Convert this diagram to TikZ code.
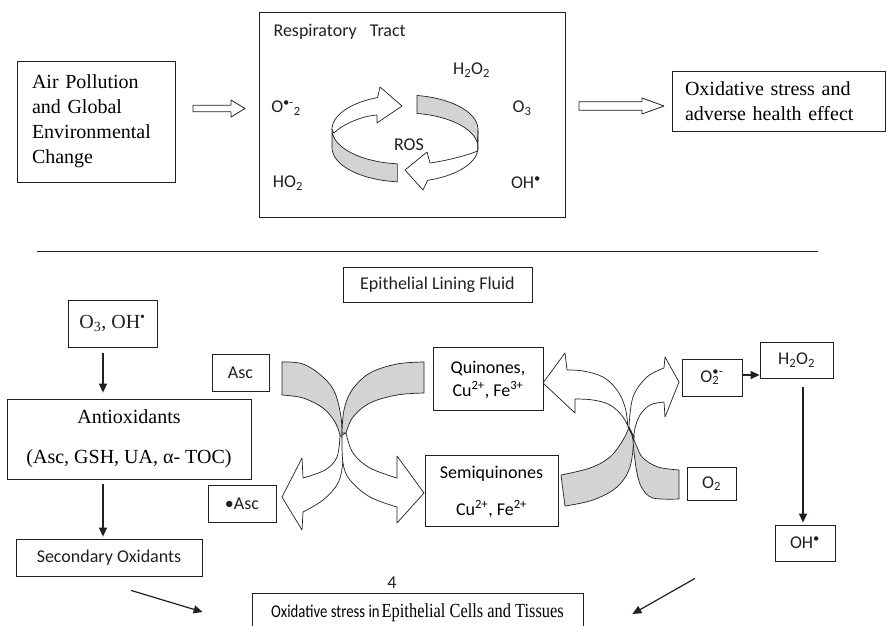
\documentclass[tikz,border=0pt]{standalone}
\usepackage{fontspec}
\usepackage{graphicx}
\setmainfont{Liberation Serif}
\newfontfamily\calib{Carlito}
\usetikzlibrary{arrows.meta,calc}
\definecolor{band}{RGB}{210,211,213}
\definecolor{ink}{RGB}{35,31,32}
\begin{document}
\begin{tikzpicture}[x=1pt,y=-1pt,
  box/.style={draw=ink, line width=0.8pt, inner sep=0pt, align=center},
  sf/.style={font=\calib\fontsize{18}{21}\selectfont, text=ink},
  rm/.style={font=\fontsize{20}{24}\selectfont, text=ink},
  arr/.style={draw=ink, line width=1.2pt, -{Triangle[length=9pt,width=8pt]}},
  rib/.style={fill=band, draw=ink, line width=0.7pt, line join=round},
  wrib/.style={fill=white, draw=ink, line width=0.7pt, line join=round}]
\useasboundingbox (0,0) rectangle (887,626);
\clip (0,0) rectangle (887,626);

% ---------- top section ----------
\node[box, minimum width=158pt, minimum height=121pt, text width=128pt, align=left,
      font=\fontsize{20}{25}\selectfont] (air) at (96,121.5)
      {Air Pollution\\and Global\\Environmental\\Change};
\node[box, minimum width=306pt, minimum height=205pt] (rt) at (412,114.5) {};
\node[box, minimum width=213pt, minimum height=60pt, text width=187pt, align=left,
      font=\fontsize{20}{25}\selectfont] (ox) at (778.5,101)
      {Oxidative stress and\\adverse health effect};

% hollow arrows
\draw[wrib, line width=0.8pt] (193,105.2) -- (231,105.2) -- (231,100) -- (245,108.5)
   -- (231,117) -- (231,111.8) -- (193,111.8) -- cycle;
\draw[wrib, line width=0.8pt] (579,101.8) -- (642,101.8) -- (642,98) -- (664,106)
   -- (642,114) -- (642,110.2) -- (579,110.2) -- cycle;

% labels in respiratory tract box
\node[sf, anchor=west] (rtl) at (270,32) {Respiratory\hspace{9pt} Tract};
\node[sf] (th2o2) at (471.5,70) {H\textsubscript{2}O\textsubscript{2}};
\node[sf] (tsup) at (286,108) {O\textsuperscript{•-}\textsubscript{2}};
\node[sf] (to3) at (522,108) {O\textsubscript{3}};
\node[sf] (tho2) at (288,183) {HO\textsubscript{2}};
\node[sf] (toh) at (526,183) {OH\textsuperscript{•}};

% ROS ring
\filldraw[wrib] plot[domain=180:112,samples=25] ({405+73*cos(\x)},{129.5-34.5*sin(\x)})
   -- (380,87) -- (402,106) -- (377,123) -- (377,115)
   .. controls (362,116) and (343,124) .. (334,133) -- cycle;
\filldraw[rib] plot[domain=180:264,samples=25] ({405+73*cos(\x)},{129.5-34.5*sin(\x)})
   -- plot[domain=264:180,samples=25] ({405+73*cos(\x)},{147.5-34.5*sin(\x)}) -- cycle;
\filldraw[rib] plot[domain=80.5:-2,samples=25] ({405+73*cos(\x)},{129.5-34.5*sin(\x)})
   -- plot[domain=-6:80.5,samples=25] ({405+73*cos(\x)},{147.5-34.5*sin(\x)}) -- cycle;
\filldraw[wrib] (478,130.7)
   -- plot[domain=-4:-72,samples=25] ({405+73*cos(\x)},{147.5-34.5*sin(\x)})
   -- (423,190) -- (405,170) -- (427,152) -- (430,163)
   .. controls (445,161) and (465,156) .. (477.6,151.1) -- cycle;
\node[sf] (ros) at (409,145) {ROS};

% separator
\draw[draw=ink, line width=0.8pt] (37,251) -- (818,251);

% ---------- bottom section ----------
\node[box, sf, minimum width=189pt, minimum height=35pt] (elf) at (437.5,284.5) {Epithelial Lining Fluid};
\node[box, rm, minimum width=89pt, minimum height=47pt] (o3) at (112.5,323.5) {O\textsubscript{3}, OH\textsuperscript{•}};
\node[box, minimum width=244pt, minimum height=80pt, font=\fontsize{20}{40}\selectfont] (anti) at (129,439)
      {Antioxidants\\(Asc, GSH, UA, α- TOC)};
\node[box, sf, minimum width=186pt, minimum height=37pt] (sec) at (109,557.5) {Secondary Oxidants};
\node[box, sf, minimum width=57pt, minimum height=37pt] (asc) at (240.5,372.5) {Asc};
\node[box, sf, minimum width=68pt, minimum height=37pt] (rasc) at (242,503.5) {•Asc};
\node[box, minimum width=110pt, minimum height=63pt,
      font=\calib\fontsize{18}{23}\selectfont] (quin) at (488,378.5)
      {Quinones,\\\smash{Cu\textsuperscript{2+}, Fe\textsuperscript{3+}}};
\node[box, minimum width=133pt, minimum height=71pt,
      font=\calib\fontsize{18}{37}\selectfont] (semi) at (491.5,490.5)
      {Semiquinones\\\smash{Cu\textsuperscript{2+}, Fe\textsuperscript{2+}}};
\node[box, sf, minimum width=60pt, minimum height=37pt] (sup) at (712,377.5)
      {O\rlap{\textsuperscript{•}}\textsubscript{2}\textsuperscript{-}};
\node[box, sf, minimum width=73pt, minimum height=36pt] (h2o2) at (796.5,360) {H\textsubscript{2}O\textsubscript{2}};
\node[box, sf, minimum width=49pt, minimum height=33pt] (o2) at (711.5,483.5) {O\textsubscript{2}};
\node[box, sf, minimum width=60pt, minimum height=36pt] (oh) at (805,543) {OH\textsuperscript{•}};
\node[sf] (four) at (392,583) {4};
\node[box, minimum width=331pt, minimum height=40pt] (final) at (417.5,613)
      {\scalebox{0.82}[1]{{\calib\fontsize{18}{21}\selectfont Oxidative stress in} {\fontsize{20}{24}\selectfont Epithelial Cells and Tissues}}};

% left crossing (Asc / Quinones)
\filldraw[rib] plot[smooth,tension=0.6] coordinates {(282,362) (303,364) (323,377) (335,393) (341,417) (342,437)}
   -- plot[smooth,tension=0.6] coordinates {(340,435) (335,422) (323,408) (303,398) (282,395)} -- cycle;
\filldraw[rib] plot[smooth,tension=0.6] coordinates {(424,362) (397,364) (370,373) (352,390) (344,410) (342,433)}
   -- plot[smooth,tension=0.6] coordinates {(346,433) (353,417) (370,403) (397,395) (424,393)} -- cycle;
\filldraw[wrib] plot[smooth,tension=0.6] coordinates {(340,435) (337,457) (325,470) (303,478)}
   -- (302,458) -- (282,497) -- (302,530)
   -- plot[smooth,tension=0.6] coordinates {(303,512) (323,500) (338,483) (343,460) (342,437)} -- cycle;
\filldraw[wrib] plot[smooth,tension=0.6] coordinates {(346,433) (353,453) (370,468) (397,478)}
   -- (397,456) -- (424,493) -- (397,523)
   -- plot[smooth,tension=0.6] coordinates {(397,507) (370,497) (350,480) (343,463) (342,435)} -- cycle;

% right crossing (Semiquinones / O2)
\filldraw[rib] plot[smooth,tension=0.6] coordinates {(561,475) (590,468) (610,457) (623,440) (629,427)}
   -- plot[smooth,tension=0.6] coordinates {(634,437) (630,467) (617,487) (593,500) (565,506)} -- cycle;
\filldraw[rib] plot[smooth,tension=0.6] coordinates {(679,470) (658,467) (643,458) (637,447) (632,435)}
   -- plot[smooth,tension=0.6] coordinates {(633,440) (634,452) (637,473) (642,488) (653,498) (679,499)} -- cycle;
\filldraw[wrib] plot[smooth,tension=0.6] coordinates {(632,435) (623,417) (610,405) (593,400) (575,399)}
   -- (575,413) -- (543,383) -- (565,353)
   -- plot[smooth,tension=0.6] coordinates {(567,370) (583,371) (603,377) (617,390) (625,407) (628,427)} -- cycle;
\filldraw[wrib] plot[smooth,tension=0.6] coordinates {(629,427) (633,397) (647,377) (664,368)}
   -- (665,357) -- (679,382) -- (665,417)
   -- plot[smooth,tension=0.6] coordinates {(664,402) (650,405) (640,415) (635,428) (634,437)} -- cycle;

% connectors
\draw[arr] ([xshift=-9.5pt,yshift=-6pt]o3.south) -- ([xshift=-26pt,yshift=6pt]anti.north);
\draw[arr] ([xshift=-26pt,yshift=-5pt]anti.south) -- ([xshift=-6pt,yshift=2pt]sec.north);
\draw[arr] ([xshift=22pt,yshift=-14pt]sec.south) -- ([xshift=-49pt,yshift=1pt]final.west);
\draw[arr] ([yshift=2.5pt]sup.east) -- ([yshift=2.5pt]sup.east -| h2o2.west);
\draw[arr] ([xshift=6.5pt,yshift=-9pt]h2o2.south) -- ([xshift=-2pt,yshift=2pt]oh.north);
\draw[arr] ([xshift=-110pt,yshift=-17pt]oh.south) -- ([xshift=49pt,yshift=-1pt]final.east);
\end{tikzpicture}
\end{document}
